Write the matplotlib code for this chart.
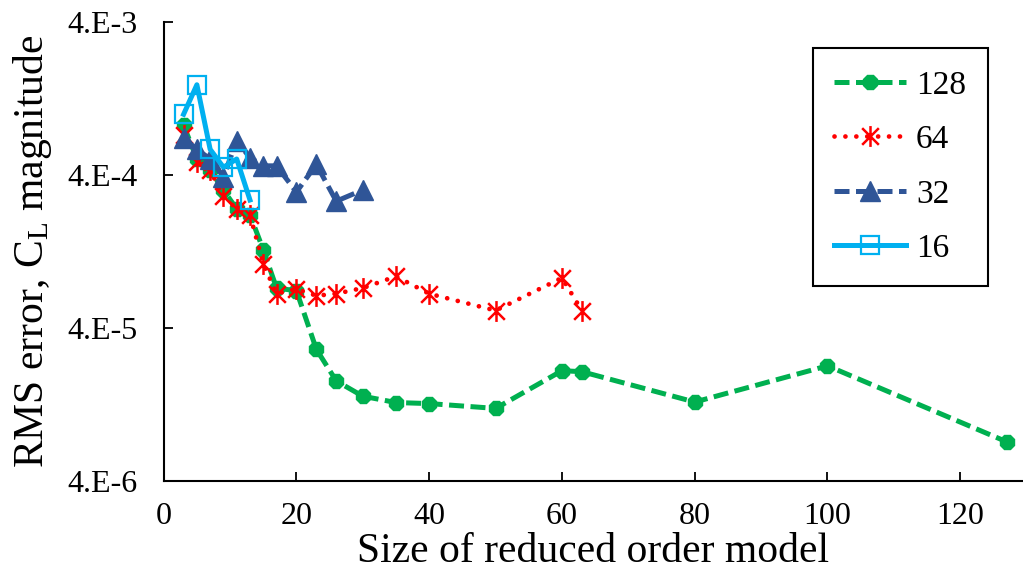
import matplotlib
matplotlib.use("Agg")
import matplotlib.pyplot as plt
from matplotlib.path import Path
from matplotlib.ticker import FixedLocator, NullLocator

plt.rcParams["font.family"] = "serif"
plt.rcParams["font.serif"] = ["Liberation Serif", "DejaVu Serif"]
plt.rcParams["mathtext.fontset"] = "custom"
plt.rcParams["mathtext.rm"] = "Liberation Serif"
plt.rcParams["mathtext.it"] = "Liberation Serif:italic"

# RMS error of C_L vs. reduced order model size, one series per full-order size
x_128 = [3, 5, 7, 9, 11, 13, 15, 17, 20, 23, 26, 30, 35, 40, 50, 60, 63, 80, 100, 127]
y_128 = [8.5e-4, 5.1e-4, 4.3e-4, 3.2e-4, 2.4e-4, 2.2e-4, 1.3e-4, 7.3e-5, 7.0e-5,
         2.9e-5, 1.8e-5, 1.43e-5, 1.3e-5, 1.28e-5, 1.19e-5, 2.1e-5, 2.07e-5,
         1.31e-5, 2.26e-5, 7.2e-6]

x_64 = [3, 5, 7, 9, 11, 13, 15, 17, 20, 23, 26, 30, 35, 40, 50, 60, 63]
y_64 = [7.3e-4, 4.9e-4, 4.3e-4, 2.9e-4, 2.4e-4, 2.2e-4, 1.05e-4, 6.7e-5, 7.2e-5,
        6.5e-5, 6.7e-5, 7.3e-5, 8.7e-5, 6.7e-5, 5.2e-5, 8.5e-5, 5.2e-5]

x_32 = [3, 5, 7, 9, 11, 13, 15, 17, 20, 23, 26, 30]
y_32 = [7.0e-4, 5.9e-4, 5.1e-4, 3.9e-4, 6.7e-4, 5.2e-4, 4.6e-4, 4.6e-4, 3.1e-4,
        4.7e-4, 2.7e-4, 3.2e-4]

x_16 = [3, 5, 7, 9, 11, 13]
y_16 = [1.0e-3, 1.56e-3, 5.9e-4, 4.5e-4, 5.1e-4, 2.75e-4]

y_ticks = [4e-6, 4e-5, 4e-4, 4e-3]
y_tick_labels = ["4.E-6", "4.E-5", "4.E-4", "4.E-3"]
x_ticks = [0, 20, 40, 60, 80, 100, 120]

GREEN = "#00B050"
RED = "#FF0000"
NAVY = "#2F5597"
CYAN = "#00B0F0"
SERIF = "Liberation Serif"

# Excel-style star: an X with a vertical bar through it
star = Path([(-1, -1), (1, 1), (-1, 1), (1, -1), (0, -1.25), (0, 1.25)],
            [Path.MOVETO, Path.LINETO, Path.MOVETO, Path.LINETO,
             Path.MOVETO, Path.LINETO])

fig = plt.figure(figsize=(10.23, 5.71), dpi=100)
ax = fig.add_axes([0.160, 0.158, 0.839, 0.803])

ax.plot(x_128, y_128, color=GREEN, lw=3.6, dashes=(3, 1.3), marker="8",
        markersize=11.5, markeredgecolor=GREEN, label="128")
ax.plot(x_64, y_64, color=RED, lw=3.4, linestyle=(0, (0.01, 2.3)),
        dash_capstyle="round", marker=star, markersize=15,
        markeredgewidth=1.8, markeredgecolor=RED, label="64")
ax.plot(x_32, y_32, color=NAVY, lw=3.6, dashes=(3, 1.3), marker="^",
        markersize=14, markeredgecolor=NAVY, label="32")
ax.plot(x_16, y_16, color=CYAN, lw=3.6, marker="s", markersize=13,
        markerfacecolor="none", markeredgecolor=CYAN, markeredgewidth=1.6,
        label="16")

ax.set_yscale("log")
ax.set_ylim(4e-6, 4e-3)
ax.set_xlim(0, 129.3)
ax.yaxis.set_major_locator(FixedLocator(y_ticks))
ax.yaxis.set_minor_locator(NullLocator())
ax.set_yticklabels(y_tick_labels)
ax.set_xticks(x_ticks)
ax.set_xticklabels([str(v) for v in x_ticks])

ax.spines["top"].set_visible(False)
ax.spines["right"].set_visible(False)
for s in ("left", "bottom"):
    ax.spines[s].set_linewidth(1.5)
ax.tick_params(axis="both", direction="in", length=6.5, width=1.3, color="black")
ax.tick_params(axis="y", labelsize=23, pad=19)
ax.tick_params(axis="x", labelsize=23, pad=15)
for lbl in ax.get_xticklabels() + ax.get_yticklabels():
    lbl.set_fontfamily(SERIF)

ax.set_xlabel("Size of reduced order model", fontsize=30, family=SERIF)
ax.set_ylabel(r"RMS error, C$_{\mathrm{L}}$ magnitude", fontsize=30, family=SERIF)
ax.xaxis.set_label_coords(0.5, -0.112)
ax.yaxis.set_label_coords(-0.128, 0.5)

leg = ax.legend(loc="upper left", bbox_to_anchor=(0.756, 0.943),
                prop={"family": SERIF, "size": 24},
                frameon=True, fancybox=False, edgecolor="black", framealpha=1,
                handlelength=2.15, handletextpad=0.3, labelspacing=0.72,
                borderpad=0.65, borderaxespad=0, numpoints=1)
leg.get_frame().set_linewidth(1.5)

fig.savefig("out.png", dpi=100)
